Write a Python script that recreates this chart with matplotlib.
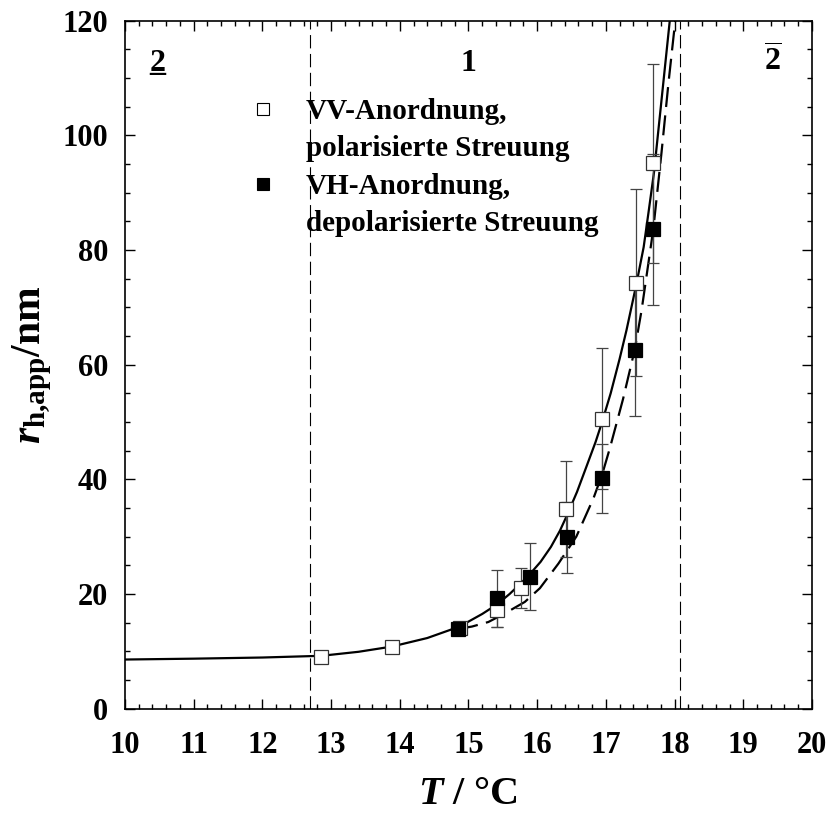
import matplotlib
matplotlib.use('Agg')
from matplotlib import pyplot as plt
from matplotlib.ticker import MultipleLocator
from matplotlib.lines import Line2D

plt.rcParams['font.family'] = 'Liberation Serif'
plt.rcParams['font.weight'] = 'bold'
plt.rcParams['axes.labelweight'] = 'bold'
plt.rcParams['mathtext.fontset'] = 'custom'
plt.rcParams['mathtext.rm'] = 'Liberation Serif:bold'
plt.rcParams['mathtext.it'] = 'Liberation Serif:bold:italic'
plt.rcParams['mathtext.bf'] = 'Liberation Serif:bold'

# VV (polarised) data
T_vv = [12.86, 13.88, 14.87, 15.42, 15.77, 16.42, 16.94, 17.44, 17.69]
r_vv = [9.0, 10.7, 14.1, 17.2, 21.1, 34.8, 50.6, 74.3, 95.1]
e_vv = [0, 0, 0, 2.9, 3.5, 8.4, 12.3, 16.3, 17.4]

# VH (depolarised) data
T_vh = [14.85, 15.42, 15.89, 16.43, 16.95, 17.42, 17.69]
r_vh = [13.9, 19.2, 23.0, 29.9, 40.2, 62.6, 83.6]
e_vh = [0, 5.0, 5.8, 6.2, 6.0, 11.5, 13.2]

# fit curves
T_fit_vv = [10.0, 11.0, 12.0, 12.86, 13.4, 13.88, 14.4, 14.87, 15.2, 15.42, 15.6, 15.75,
            15.89, 16.05, 16.2, 16.33, 16.43, 16.58, 16.72, 16.85, 16.94, 17.07, 17.2,
            17.3, 17.44, 17.55, 17.62, 17.7, 17.8, 17.93]
r_fit_vv = [8.55, 8.7, 8.9, 9.2, 9.9, 10.8, 12.3, 14.3, 16.5, 18.2, 20.0, 21.7,
            23.4, 25.6, 28.2, 31.0, 33.6, 37.8, 42.3, 46.5, 49.8, 55.0, 61.0,
            66.0, 73.8, 80.5, 86.5, 93.5, 105.0, 120.0]

T_fit_vh = [14.85, 15.05, 15.29, 15.53, 15.82, 16.04, 16.31, 16.57, 16.82, 16.95, 17.06,
            17.25, 17.42, 17.52, 17.69, 17.81, 17.91, 18.01]
r_fit_vh = [13.9, 14.3, 15.1, 16.6, 18.6, 21.0, 25.3, 30.0, 36.7, 41.0, 45.5,
            54.0, 62.6, 69.5, 83.6, 97.0, 109.0, 120.0]

# phase boundaries and region labels
T_bounds = [12.7, 18.08]
region_x = [10.47, 15.0, 19.43]
region_txt = ['2', '1', r'$\overline{\mathrm{2}}$']

fig = plt.figure(figsize=(8.31, 8.16), dpi=100)
ax = fig.add_axes([0.1504, 0.1317, 0.8267, 0.8429])

for tb in T_bounds:
    ax.axvline(tb, color='black', lw=0.8, ls=(0, (12, 5)))

ax.plot(T_fit_vv, r_fit_vv, color='black', lw=1.6)
ax.plot(T_fit_vh, r_fit_vh, color='black', lw=1.6, ls=(0, (9, 3.8)))

ax.errorbar(T_vv, r_vv, yerr=e_vv, fmt='none', ecolor='#444444', elinewidth=0.9,
            capsize=4, capthick=0.9, zorder=3)
ax.errorbar(T_vh, r_vh, yerr=e_vh, fmt='none', ecolor='#444444', elinewidth=0.9,
            capsize=4, capthick=0.9, zorder=3)
ax.plot(T_vv, r_vv, ls='none', marker='s', ms=9.5, mfc='white', mec='#333333', mew=0.9, zorder=4)
ax.plot(T_vh, r_vh, ls='none', marker='s', ms=9.5, mfc='black', mec='black', mew=0.9, zorder=5)

for x, t in zip(region_x, region_txt):
    ax.text(x, 111.3, t, ha='center', va='baseline', fontsize=23, fontweight='bold')
# underline for the left region label
ax.text(region_x[0], 111.3, '_', ha='center', va='baseline', fontsize=23, fontweight='bold')

blank = Line2D([], [], ls='none')
handles = [Line2D([], [], ls='none', marker='s', ms=8, mfc='white', mec='black', mew=0.8),
           blank,
           Line2D([], [], ls='none', marker='s', ms=8, mfc='black', mec='black', mew=0.8),
           blank]
labels = ['VV-Anordnung,', 'polarisierte Streuung', 'VH-Anordnung,', 'depolarisierte Streuung']
leg = ax.legend(handles, labels, loc='upper left', bbox_to_anchor=(0.163, 0.905),
                frameon=False, fontsize=21, handletextpad=0.95, labelspacing=0.36,
                borderaxespad=0, handlelength=1.0)

ax.set_xlim(10, 20)
ax.set_ylim(0, 120)
ax.xaxis.set_major_locator(MultipleLocator(1))
ax.xaxis.set_minor_locator(MultipleLocator(0.2))
ax.yaxis.set_major_locator(MultipleLocator(20))
ax.yaxis.set_minor_locator(MultipleLocator(5))
ax.tick_params(which='both', direction='in', top=True, right=True, width=1)
ax.tick_params(which='major', length=7)
ax.tick_params(which='minor', length=3.5)
ax.tick_params(axis='x', which='major', pad=16, labelsize=22)
ax.tick_params(axis='y', which='major', pad=12, labelsize=22)
for s in ax.spines.values():
    s.set_linewidth(1.2)

ax.set_xlabel(r'$T$ / °C', fontsize=29, labelpad=12)
ax.set_ylabel(r'$r_{\mathrm{h{,}app}}$/nm', fontsize=30, labelpad=6)

plt.savefig('out.png', dpi=100)
